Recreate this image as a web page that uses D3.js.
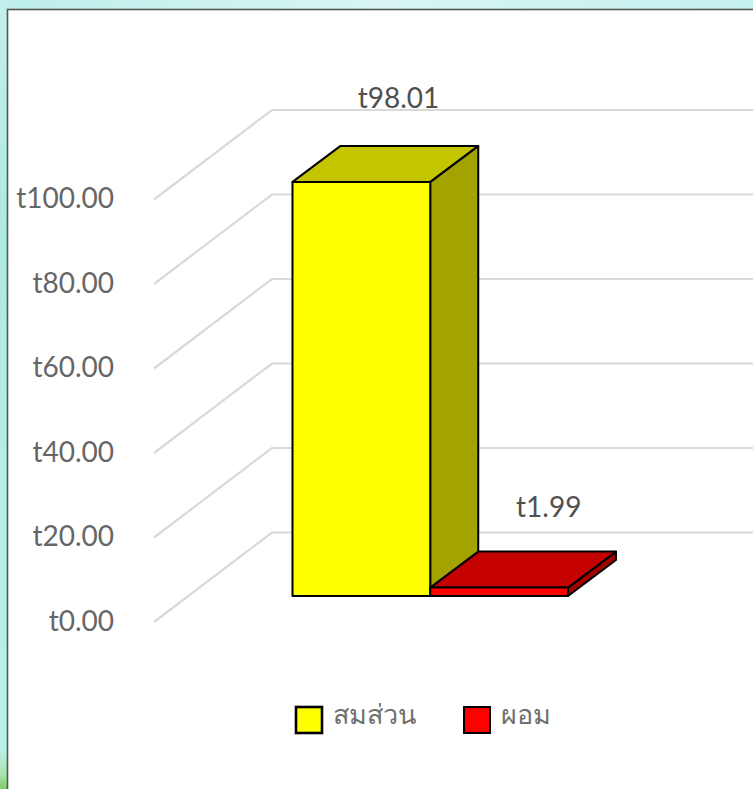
<!DOCTYPE html>
<html><head><meta charset="utf-8">
<script src="https://cdn.jsdelivr.net/npm/d3@7"></script>
<style>html,body{margin:0;padding:0;background:#fff;overflow:hidden}svg{display:block}text{font-family:Lato,"Noto Sans",sans-serif}</style>
</head><body><div id="c"></div>
<script>
const categories = ["สมส่วน", "ผอม"];
const values = [98.01, 1.99];
const valueLabels = ["t98.01", "t1.99"];
const ticks = [0, 20, 40, 60, 80, 100];
const tickLabels = ["t0.00", "t20.00", "t40.00", "t60.00", "t80.00", "t100.00"];
const colors = ["#ffff00", "#ff0000"];
const topColors = ["#c4c400", "#c40000"];
const sideColors = ["#a3a300", "#a30000"];

const W = 753, H = 789;
const svg = d3.select("#c").append("svg").attr("width", W).attr("height", H);
const defs = svg.append("defs");
const g1 = defs.append("linearGradient").attr("id", "bgL").attr("x1", 0).attr("y1", 0).attr("x2", 0).attr("y2", 1);
[[0, "#c4f0ec"], [0.3, "#ade9e3"], [0.7, "#b6efe6"], [0.95, "#b9efe9"], [0.98, "#a9e6b0"], [1, "#7fcb6a"]]
  .forEach(s => g1.append("stop").attr("offset", s[0]).attr("stop-color", s[1]));
const g2 = defs.append("linearGradient").attr("id", "bgT").attr("x1", 0).attr("y1", 0).attr("x2", 1).attr("y2", 0);
[[0, "#bdeeea"], [0.5, "#d8f5f3"], [1, "#c4f0ee"]]
  .forEach(s => g2.append("stop").attr("offset", s[0]).attr("stop-color", s[1]));
svg.append("rect").attr("width", W).attr("height", H).attr("fill", "url(#bgL)");
svg.append("rect").attr("x", 7).attr("width", W - 7).attr("height", 9).attr("fill", "url(#bgT)");
svg.append("rect").attr("x", 7.5).attr("y", 9.5).attr("width", W).attr("height", H)
  .attr("fill", "#fff").attr("stroke", "#555").attr("stroke-width", 1.6);

// scales
const y = d3.scaleLinear().domain([0, 100]).range([622, 199.5]);
const x = d3.scaleBand().domain(categories).range([292.5, 568]).padding(0);
const depthX = 48, depthY = -36;           // bar depth
const wallX = 118, wallY = -89.5;          // floor depth
const floorDrop = 26;                      // bar base sits above front axis
const frontX = 154;
const baseY = y(0) - floorDrop;

// grid
const grid = svg.append("g").attr("fill", "none").attr("stroke", "#d9d9d9").attr("stroke-width", 2.2);
grid.selectAll("path").data(ticks).join("path")
  .attr("d", d => `M${frontX},${y(d)}L${frontX + wallX},${y(d) + wallY}L${W},${y(d) + wallY}`);

// tick labels
svg.append("g").selectAll("text").data(ticks).join("text")
  .attr("x", 114).attr("y", d => y(d) - 1).attr("dy", "0.35em").attr("text-anchor", "end")
  .attr("font-size", 28).attr("fill", "#666")
  .text((d, i) => tickLabels[i]);

// bars
const h = v => y(0) - y(v);
const bars = svg.append("g").selectAll("g").data(categories).join("g")
  .attr("stroke", "#000").attr("stroke-width", 2).attr("stroke-linejoin", "round");
bars.append("path").attr("fill", (d, i) => sideColors[i]).attr("d", (d, i) => {
  const xr = x(d) + x.bandwidth(), t = baseY - h(values[i]);
  return `M${xr},${t}L${xr + depthX},${t + depthY}L${xr + depthX},${baseY + depthY}L${xr},${baseY}Z`;
});
bars.append("path").attr("fill", (d, i) => topColors[i]).attr("d", (d, i) => {
  const xl = x(d), xr = xl + x.bandwidth(), t = baseY - h(values[i]);
  return `M${xl},${t}L${xl + depthX},${t + depthY}L${xr + depthX},${t + depthY}L${xr},${t}Z`;
});
bars.append("rect").attr("fill", (d, i) => colors[i])
  .attr("x", d => x(d)).attr("width", x.bandwidth())
  .attr("y", (d, i) => baseY - h(values[i])).attr("height", (d, i) => h(values[i]));

// value labels
const labelDx = [106, 118.5];
const labelY = [98, 507];
svg.append("g").selectAll("text").data(categories).join("text")
  .attr("x", (d, i) => x(d) + labelDx[i]).attr("y", (d, i) => labelY[i]).attr("dy", "0.35em")
  .attr("text-anchor", "middle").attr("font-size", 28).attr("fill", "#505050")
  .text((d, i) => valueLabels[i]);

// legend
const legendX = [296, 464];
const lg = svg.append("g").selectAll("g").data(categories).join("g");
lg.append("rect").attr("x", (d, i) => legendX[i]).attr("y", 707).attr("width", 26).attr("height", 26)
  .attr("fill", (d, i) => colors[i]).attr("stroke", "#000").attr("stroke-width", (d, i) => i ? 2 : 2.6);
lg.append("text").attr("x", (d, i) => legendX[i] + 37).attr("y", 715).attr("dy", "0.35em")
  .attr("font-size", 27).attr("font-weight", 300).attr("fill", "#707070").text(d => d);
</script></body></html>
